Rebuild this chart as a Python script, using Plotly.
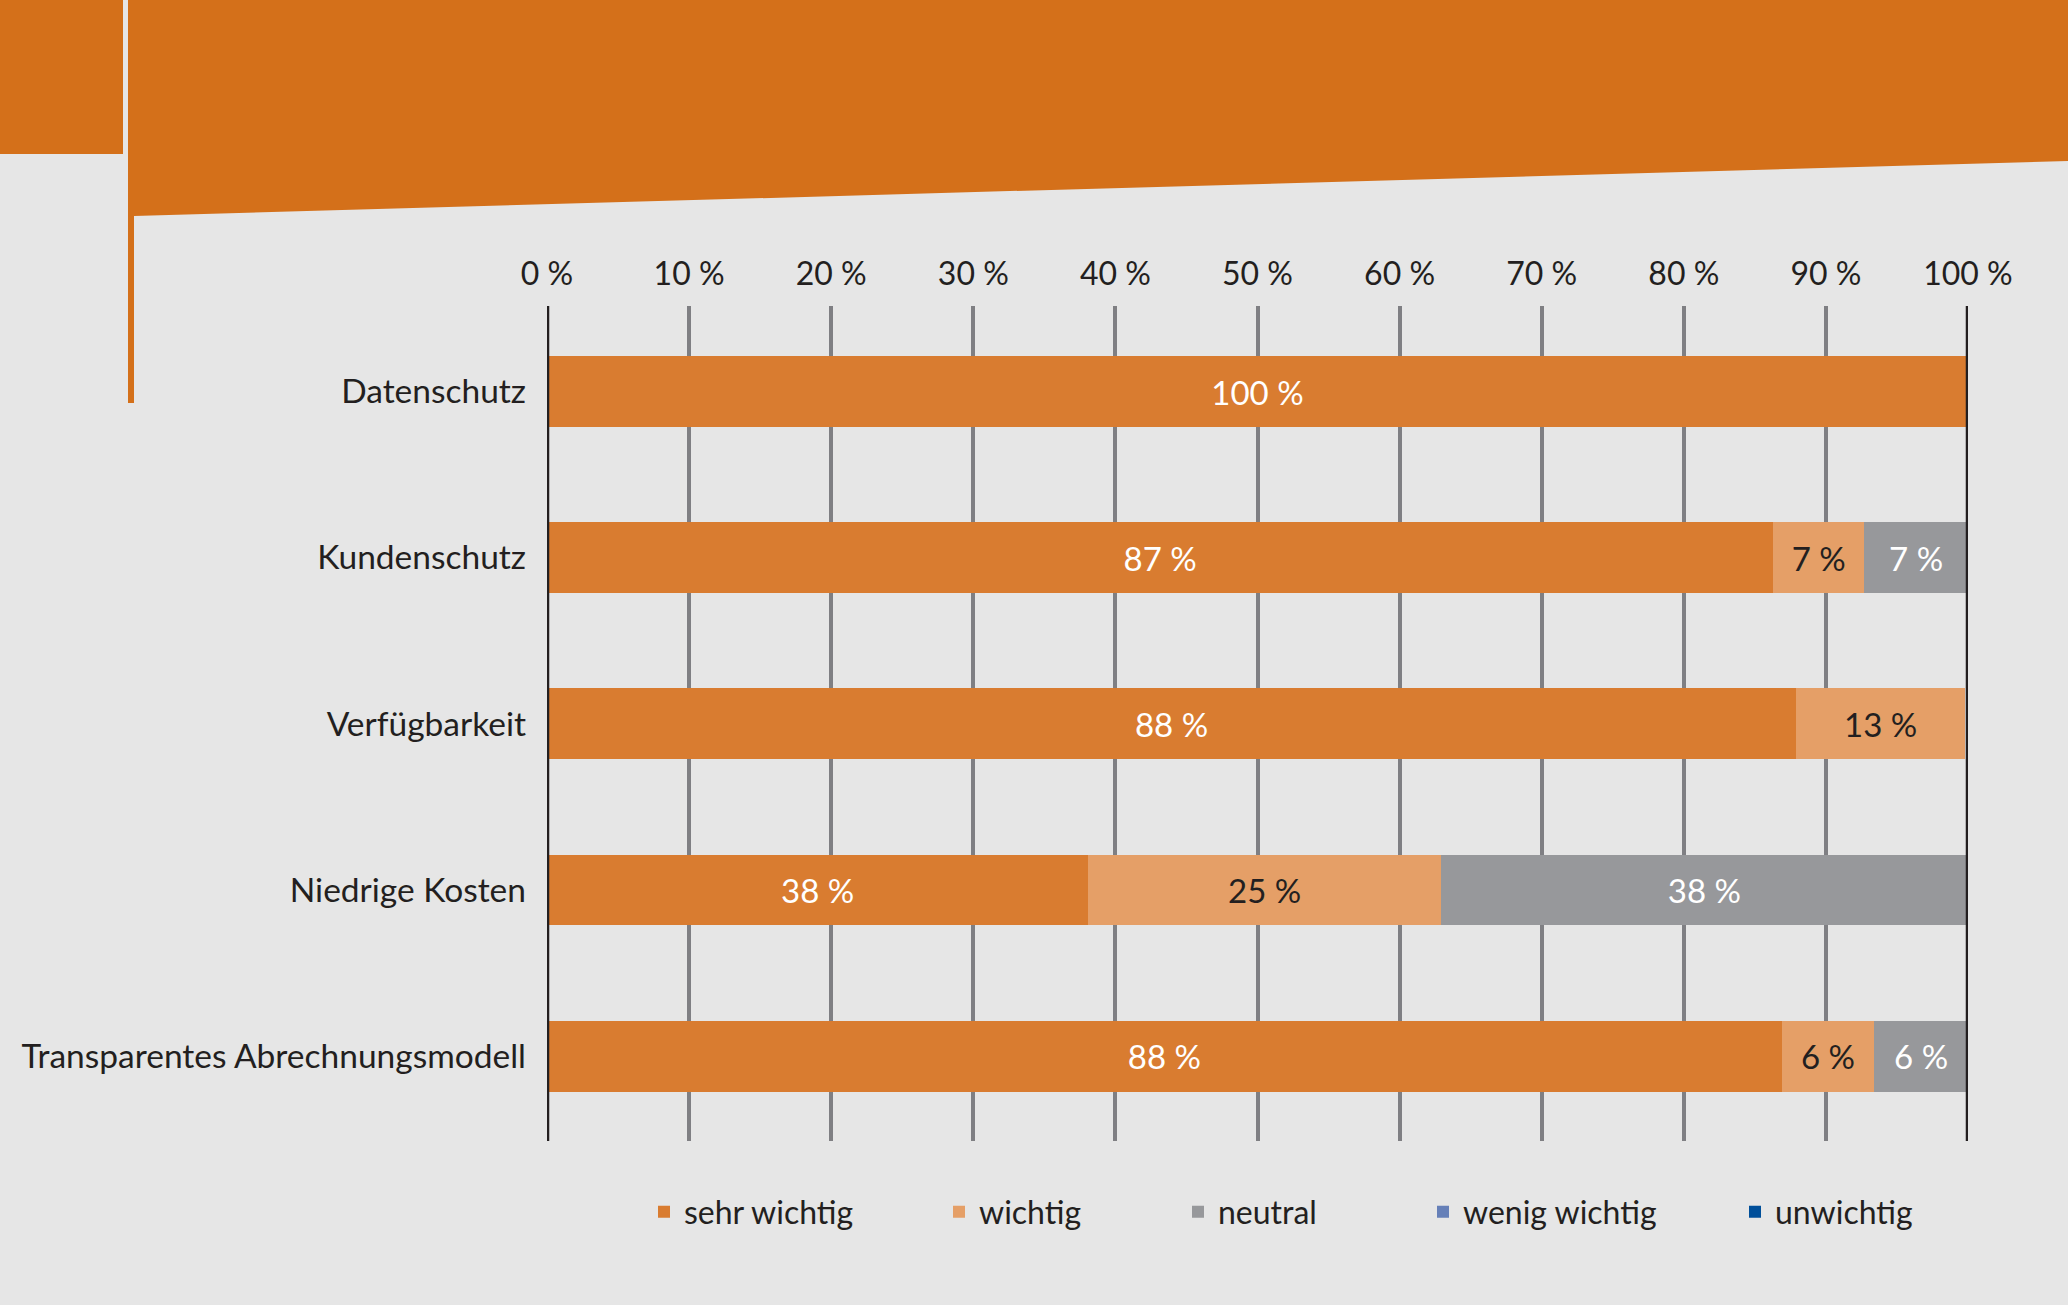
import plotly.graph_objects as go

# ---------------- data ----------------
categories = ["Datenschutz", "Kundenschutz", "Verfügbarkeit", "Niedrige Kosten",
              "Transparentes Abrechnungsmodell"]
series_names = ["sehr wichtig", "wichtig", "neutral", "wenig wichtig", "unwichtig"]
sehr_wichtig = [100.0, 86.3, 87.9, 38.1, 86.9]
wichtig = [0.0, 6.4, 11.9, 24.8, 6.5]
neutral = [0.0, 7.3, 0.0, 37.1, 6.6]
wenig_wichtig = [0.0, 0.0, 0.0, 0.0, 0.0]
unwichtig = [0.0, 0.0, 0.0, 0.0, 0.0]
labels_sehr = ["100 %", "87 %", "88 %", "38 %", "88 %"]
labels_wichtig = ["", "7 %", "13 %", "25 %", "6 %"]
labels_neutral = ["", "7 %", "", "38 %", "6 %"]
tick_values = [0, 10, 20, 30, 40, 50, 60, 70, 80, 90, 100]
tick_labels = [f"{v} %" for v in tick_values]

# ---------------- style ----------------
W, H = 2068, 1305
ML, MR, MT, MB = 547, 100, 306, 164
PW, PH = W - ML - MR, H - MT - MB
BG = "#e6e6e6"
HEADER = "#d4701a"
DARK = "#231f20"
GRID = "#7f7f83"
FONT = "Lato, Open Sans, sans-serif"
colors = ["#d97c30", "#e59f67", "#97989b", "#6680b8", "#004f9a"]
text_colors = ["white", DARK, "white", "white", "white"]


def px(x):
    return (x - ML) / PW


def py(y):
    return (H - MB - y) / PH


values = [sehr_wichtig, wichtig, neutral, wenig_wichtig, unwichtig]
texts = [labels_sehr, labels_wichtig, labels_neutral, None, None]
legend_text_x = [684, 979, 1218, 1463, 1775]

fig = go.Figure()
for i, name in enumerate(series_names):
    lname = "legend" if i == 0 else f"legend{i + 1}"
    fig.add_trace(go.Bar(
        name=name, y=categories, x=values[i], orientation="h",
        marker=dict(color=colors[i], line=dict(width=0)),
        text=texts[i], textposition="inside" if texts[i] else "none",
        insidetextanchor="middle", textangle=0,
        textfont=dict(color=text_colors[i], size=33, family=FONT),
        hoverinfo="skip", legend=lname,
    ))

layout_legends = {}
for i in range(5):
    lname = "legend" if i == 0 else f"legend{i + 1}"
    layout_legends[lname] = dict(
        x=px(legend_text_x[i] - 40), y=py(1212), xanchor="left", yanchor="middle",
        orientation="h", bgcolor="rgba(0,0,0,0)", borderwidth=0,
        font=dict(size=32, color=DARK, family=FONT),
    )

shapes = [
    # header decoration
    dict(type="rect", xref="paper", yref="paper", x0=px(0), x1=px(123), y0=py(0), y1=py(154),
         fillcolor=HEADER, line=dict(width=0), layer="below"),
    dict(type="path", xref="paper", yref="paper",
         path=(f"M {px(128)} {py(0)} L {px(W)} {py(0)} L {px(W)} {py(161)} "
               f"L {px(134)} {py(216)} L {px(134)} {py(403)} L {px(128)} {py(403)} Z"),
         fillcolor=HEADER, line=dict(width=0), layer="below"),
    # frame lines at 0 % and 100 %
    dict(type="line", xref="x", yref="paper", x0=0, x1=0, y0=0, y1=1,
         line=dict(color=DARK, width=4.5), layer="above"),
    dict(type="line", xref="x", yref="paper", x0=100, x1=100, y0=0, y1=1,
         line=dict(color=DARK, width=4.5), layer="above"),
]

fig.update_layout(
    width=W, height=H, barmode="stack", bargap=0.573,
    margin=dict(l=ML, r=MR, t=MT, b=MB, autoexpand=False),
    paper_bgcolor=BG, plot_bgcolor=BG,
    font=dict(family=FONT, color=DARK),
    uniformtext=dict(mode=False),
    showlegend=True,
    shapes=shapes,
    xaxis=dict(range=[0, 100], side="top", tickvals=tick_values, ticktext=tick_labels,
               showgrid=True, gridcolor=GRID, gridwidth=4, zeroline=False, showline=False,
               ticks="", ticklabelstandoff=14, tickfont=dict(size=32, color=DARK, family=FONT),
               fixedrange=True, automargin=False),
    yaxis=dict(categoryorder="array", categoryarray=categories, range=[4.511, -0.515],
               showgrid=False, zeroline=False, showline=False, ticks="",
               ticklabelstandoff=20, tickfont=dict(size=33.5, color=DARK, family=FONT),
               fixedrange=True, automargin=False),
    **layout_legends,
)

fig.write_html("out.html", config={"displayModeBar": False},
               post_script="document.body.style.margin='0px';")
